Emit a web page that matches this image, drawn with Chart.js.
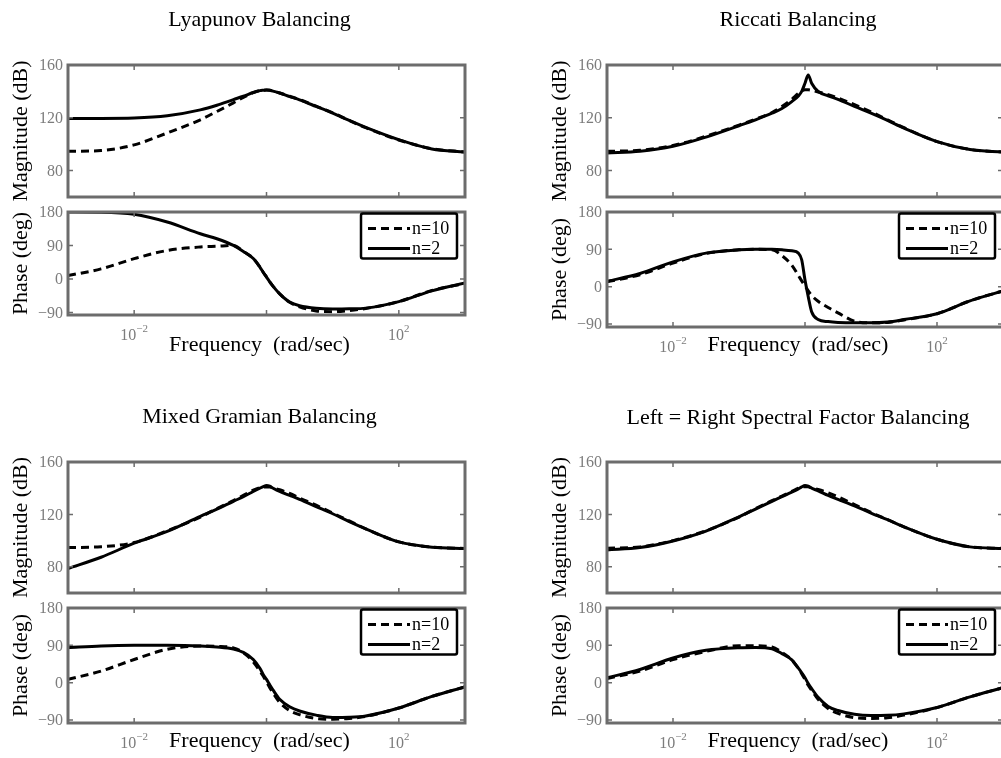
<!DOCTYPE html>
<html>
<head>
<meta charset="utf-8">
<script src="https://cdn.jsdelivr.net/npm/chart.js@4.4.1/dist/chart.umd.min.js"></script>
<style>
  html, body { margin: 0; padding: 0; background: #fff; overflow: hidden; }
  body { width: 1001px; height: 758px; position: relative; }
  canvas { position: absolute; }
</style>
</head>
<body>
<script>
// frequency points (rad/sec)
const freq = [0.001, 0.00316, 0.01, 0.0316, 0.1, 0.178, 0.316, 0.447, 0.631, 0.794, 0.891, 1,
              1.12, 1.26, 1.58, 2.24, 3.16, 5.62, 10, 17.8, 31.6, 100, 316, 1000];

// Lyapunov balancing
const lyapMag10 = [94.6, 95.2, 99.5, 108.5, 118.5, 124.8, 131.3, 135.5, 139, 140.6, 140.9, 141, 140.9, 140.2, 138.8, 136.3, 133.8, 128.8, 123.8, 118, 112.5, 103.2, 96.6, 94.1];
const lyapMag2  = [119.5, 119.5, 119.8, 121.5, 126, 129.5, 133.8, 136.3, 139.2, 140.6, 140.9, 141.1, 140.9, 140.2, 138.8, 136.1, 133.6, 128.6, 123.5, 118, 112.7, 103.4, 96.4, 94.1];
const lyapPh10  = [9, 27, 54.5, 76.5, 86, 88, 90, 74, 55, 32, 18, 5, -8, -20, -40, -63, -75, -86, -88, -85, -79.5, -61, -31, -12];
const lyapPh2   = [180, 179.5, 174, 153, 121.5, 108, 90, 74, 55, 32, 18, 5, -8, -20, -40, -62, -72, -79, -81, -80.5, -78.5, -61, -32, -11];

// Riccati balancing
const ricMag10 = [94.6, 95.4, 99, 106, 114.5, 119, 124, 128.5, 134, 138.5, 140.3, 141.2, 141.2, 140.8, 139.6, 137.6, 135, 130, 124.5, 118.5, 112.5, 102, 96, 94];
const ricMag2  = [93.3, 94.6, 98.4, 105.4, 114, 118.5, 123.5, 127, 132.3, 136.6, 140, 146.2, 152.5, 146.2, 140, 136.6, 134, 128.6, 123.5, 118, 112.2, 102, 96, 94];
const ricPh10  = [12, 29, 57, 80, 89, 90, 89, 75, 52, 27, 14, 2, -10, -21, -35, -50, -63, -83, -87, -86, -80, -65, -34, -10];
const ricPh2   = [13, 32, 60, 81, 89, 90, 90, 89, 86.5, 81, 65, 16, -24, -60, -79, -84, -86, -87, -87, -85, -79, -65, -34, -10];

// Mixed Gramian balancing
const mixMag10 = [94.7, 95.3, 98.5, 107.5, 118, 124.5, 130.5, 134.5, 138.5, 140.5, 141, 141, 141, 140.2, 138.8, 136, 132.5, 127, 121, 115, 109, 99, 95, 94];
const mixMag2  = [78.7, 87.3, 98, 107, 118.5, 124, 130, 133.5, 137.5, 140, 141.2, 142, 141.5, 140, 137.5, 134.5, 131.5, 126, 120.5, 114.5, 109, 99, 95, 94];
const mixPh10  = [8, 28, 56, 80.6, 88.5, 87.5, 84, 72, 50, 28, 16, 2, -12, -25, -47, -67, -77, -86, -88, -86, -81, -61, -33, -10];
const mixPh2   = [84.4, 88.5, 90, 90, 88.5, 86, 81, 73, 56, 35, 20, 8, -5, -18, -40, -58, -68, -78, -83.5, -83, -80, -61, -33, -10];

// Left = Right spectral factor balancing
const sfMag10 = [94.2, 95.2, 100, 107.5, 118, 124.5, 130.5, 134, 137.5, 140, 141, 141.2, 141, 140.3, 139, 136.5, 133.5, 127.5, 121.5, 116, 110.5, 101, 95.2, 94];
const sfMag2  = [92.9, 94.7, 99.7, 107.3, 118.2, 124, 130, 133.5, 137, 139.5, 141, 142, 141.5, 140, 138, 134.5, 131.5, 126.5, 121, 116, 110.5, 101, 95.2, 94];
const sfPh10  = [10, 28, 55.6, 75.5, 89, 89, 86, 73, 55, 34, 22, 8, -6, -18, -40, -62, -74, -84, -86, -84.5, -78, -60, -34, -12];
const sfPh2   = [12, 32, 59.6, 78, 84.4, 85, 82, 70, 55, 35, 24, 12, -2, -14, -35, -57, -67, -76, -79, -78.5, -75, -59.6, -34, -12];

// ticks
const magTicks = [80, 120, 160];
const magTickLabels = ['80', '120', '160'];
const phaseTicks = [-90, 0, 90, 180];
const phaseTickLabels = ['\u221290', '0', '90', '180'];
const freqTicks = [0.01, 1, 100];
const freqLabelTicks = [0.01, 100];
const freqLabelExp = ['\u22122', '2'];

const FRAME = '#6c6c6c';
const TICK_TEXT = '#7c7c7c';
const SERIF = '"Liberation Serif", "Times New Roman", serif';

const axesDecor = {
  id: 'axesDecor',
  afterDatasetsDraw(chart, args, o) {
    const { ctx, chartArea: a } = chart;
    const xs = chart.scales.x, ys = chart.scales.y;
    ctx.save();
    ctx.strokeStyle = FRAME;
    ctx.lineWidth = 3;
    ctx.strokeRect(a.left, a.top, a.right - a.left, a.bottom - a.top);

    // inward tick marks on all four sides
    ctx.lineWidth = 1.5;
    ctx.beginPath();
    o.yTicks.forEach(v => {
      const p = ys.getPixelForValue(v);
      ctx.moveTo(a.left, p); ctx.lineTo(a.left + 5, p);
      ctx.moveTo(a.right, p); ctx.lineTo(a.right - 5, p);
    });
    freqTicks.forEach(v => {
      const p = xs.getPixelForValue(v);
      ctx.moveTo(p, a.top); ctx.lineTo(p, a.top + 5);
      ctx.moveTo(p, a.bottom); ctx.lineTo(p, a.bottom - 5);
    });
    ctx.stroke();

    // y tick labels
    ctx.fillStyle = TICK_TEXT;
    ctx.font = '16px ' + SERIF;
    ctx.textAlign = 'right';
    ctx.textBaseline = 'middle';
    o.yTicks.forEach((v, i) => ctx.fillText(o.yLabels[i], a.left - 5, ys.getPixelForValue(v) + 1));

    // x tick labels 10^n
    if (o.xTicks) {
      ctx.textAlign = 'left';
      ctx.textBaseline = 'alphabetic';
      freqLabelTicks.forEach((v, i) => {
        ctx.font = '16px ' + SERIF;
        const wBase = ctx.measureText('10').width;
        ctx.font = '11px ' + SERIF;
        const wExp = ctx.measureText(freqLabelExp[i]).width;
        const x0 = xs.getPixelForValue(v) - (wBase + wExp) / 2;
        const by = a.bottom + 25;
        ctx.font = '16px ' + SERIF;
        ctx.fillText('10', x0, by);
        ctx.font = '11px ' + SERIF;
        ctx.fillText(freqLabelExp[i], x0 + wBase, by - 8);
      });
    }

    // texts in black
    ctx.fillStyle = '#000';
    ctx.font = '22px ' + SERIF;
    ctx.textAlign = 'center';
    ctx.textBaseline = 'alphabetic';
    const cx = (a.left + a.right) / 2 - 7;
    if (o.title) ctx.fillText(o.title, cx, o.titleY);
    if (o.xlabel) ctx.fillText(o.xlabel, cx, o.xlabelY);
    ctx.save();
    ctx.translate(a.left - 41, (a.top + a.bottom) / 2);
    ctx.rotate(-Math.PI / 2);
    ctx.fillText(o.ylabel, 0, 0);
    ctx.restore();

    // boxed legend
    if (o.legend) {
      const w = 96, h = 45;
      const lx = a.right - 8 - w, ly = a.top + 1.5;
      ctx.fillStyle = '#fff';
      ctx.strokeStyle = '#000';
      ctx.lineWidth = 2.5;
      ctx.beginPath();
      ctx.roundRect(lx, ly, w, h, 2);
      ctx.fill();
      ctx.stroke();
      ctx.font = '18px ' + SERIF;
      ctx.textAlign = 'left';
      ctx.textBaseline = 'middle';
      chart.data.datasets.forEach((ds, i) => {
        const ry = ly + 15 + i * 20;
        ctx.strokeStyle = '#000';
        ctx.lineWidth = 3;
        ctx.setLineDash(ds.borderDash || []);
        ctx.beginPath();
        ctx.moveTo(lx + 7, ry);
        ctx.lineTo(lx + 49, ry);
        ctx.stroke();
        ctx.setLineDash([]);
        ctx.fillStyle = '#000';
        ctx.fillText(ds.label, lx + 51, ry + 1);
      });
    }
    ctx.restore();
  }
};

function series(vals) {
  return freq.map((f, i) => ({ x: f, y: vals[i] }));
}

function makeSub(box, yMin, yMax, dashed, solid, decor) {
  const c = document.createElement('canvas');
  c.width = box.w; c.height = box.h;
  c.style.left = box.x + 'px'; c.style.top = box.y + 'px';
  document.body.appendChild(c);
  return new Chart(c, {
    type: 'line',
    data: {
      datasets: [
        { label: 'n=10', data: series(dashed), borderColor: '#000', borderWidth: 3, borderDash: [8, 5],
          pointRadius: 0, fill: false, cubicInterpolationMode: 'monotone' },
        { label: 'n=2', data: series(solid), borderColor: '#000', borderWidth: 3, borderDash: [],
          pointRadius: 0, fill: false, cubicInterpolationMode: 'monotone' }
      ]
    },
    options: {
      responsive: false,
      animation: false,
      devicePixelRatio: 1,
      layout: { padding: box.pad },
      scales: {
        x: { type: 'logarithmic', min: 0.001, max: 1000, display: false },
        y: { type: 'linear', min: yMin, max: yMax, display: false }
      },
      plugins: { legend: { display: false }, tooltip: { enabled: false }, axesDecor: decor }
    },
    plugins: [axesDecor]
  });
}

const panels = [
  { title: 'Lyapunov Balancing', x0: 0, top: 0, bottom: 379, l: 68, r: 465, mag: [65, 197], ph: [212, 315], titleY: 26, xlabelY: 351,
    d: [lyapMag10, lyapMag2, lyapPh10, lyapPh2] },
  { title: 'Riccati Balancing', x0: 520, top: 0, bottom: 379, l: 607, r: 1003, mag: [65, 197], ph: [212, 327], titleY: 26, xlabelY: 351,
    d: [ricMag10, ricMag2, ricPh10, ricPh2] },
  { title: 'Mixed Gramian Balancing', x0: 0, top: 379, bottom: 758, l: 68, r: 465, mag: [462, 593], ph: [608, 723], titleY: 423, xlabelY: 747,
    d: [mixMag10, mixMag2, mixPh10, mixPh2] },
  { title: 'Left = Right Spectral Factor Balancing', x0: 520, top: 379, bottom: 758, l: 607, r: 1003, mag: [462, 593], ph: [608, 723], titleY: 424, xlabelY: 747,
    d: [sfMag10, sfMag2, sfPh10, sfPh2] }
];

panels.forEach(p => {
  const W = 500;
  const split = p.mag[1] + 7;
  const magBox = { x: p.x0, y: p.top, w: W, h: split - p.top,
    pad: { left: p.l - p.x0, right: p.x0 + W - p.r, top: p.mag[0] - p.top, bottom: 7 } };
  const phBox = { x: p.x0, y: split, w: W, h: p.bottom - split,
    pad: { left: p.l - p.x0, right: p.x0 + W - p.r, top: p.ph[0] - split, bottom: p.bottom - p.ph[1] } };
  makeSub(magBox, 60, 160, p.d[0], p.d[1], {
    yTicks: magTicks, yLabels: magTickLabels, ylabel: 'Magnitude (dB)',
    title: p.title, titleY: p.titleY - p.top, xTicks: false, legend: false
  });
  makeSub(phBox, -97, 180, p.d[2], p.d[3], {
    yTicks: phaseTicks, yLabels: phaseTickLabels, ylabel: 'Phase (deg)',
    xlabel: 'Frequency  (rad/sec)', xlabelY: p.xlabelY - split, xTicks: true, legend: true
  });
});
</script>
</body>
</html>
